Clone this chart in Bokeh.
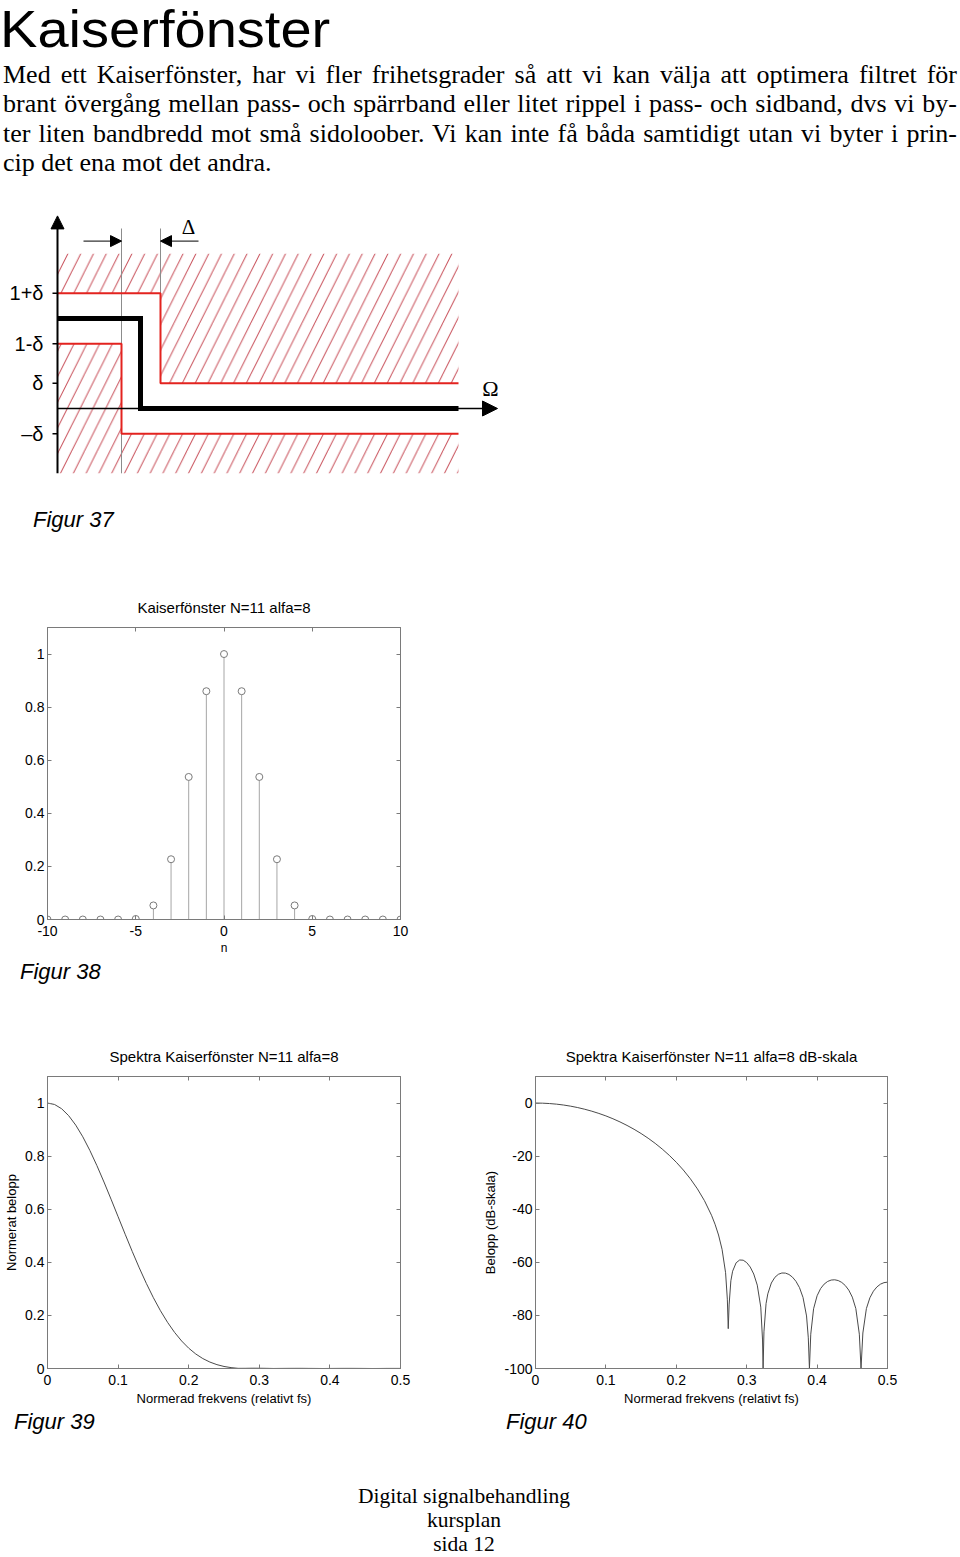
from bokeh.plotting import figure
from bokeh.layouts import column, row
from bokeh.models import Div, FixedTicker, LinearAxis, Range1d, Arrow, NormalHead
from bokeh.core.properties import value
from bokeh.embed import file_html
from bokeh.resources import INLINE

# ---------------- texts ----------------
page_title = "Kaiserfönster"
paragraph_lines = [
    "Med ett Kaiserfönster, har vi fler frihetsgrader så att vi kan välja att optimera filtret för",
    "brant övergång mellan pass- och spärrband eller litet rippel i pass- och sidband, dvs vi by-",
    "ter liten bandbredd mot små sidoloober. Vi kan inte få båda samtidigt utan vi byter i prin-",
    "cip det ena mot det andra.",
]
footer_lines = ["Digital signalbehandling", "kursplan", "sida 12"]
captions = ["Figur 37", "Figur 38", "Figur 39", "Figur 40"]

# ---------------- Figur 37 : tolerance scheme (schematic units) ----------------
delta = 0.28
omega_pass = 0.64
omega_cut = 0.83
omega_stop = 1.03
omega_end = 4.01
omega_tip = 4.40
hatch_top = 1.72
hatch_bottom = -0.72
axis_tip = 2.14
guide_top = 2.0
delta_arrow_y = 1.86
delta_arrow_starts = [0.26, 1.41]
level_labels = ["1+δ", "1-δ", "δ", "–δ"]
level_values = [1 + delta, 1 - delta, delta, -delta]

# ---------------- Figur 38 : Kaiser window N=11, alfa=8 ----------------
n_samples = [-10, -9, -8, -7, -6, -5, -4, -3, -2, -1, 0, 1, 2, 3, 4, 5, 6, 7, 8, 9, 10]
kaiser_w = [0, 0, 0, 0, 0, 0.002, 0.053, 0.227, 0.537, 0.860, 1.000,
            0.860, 0.537, 0.227, 0.053, 0.002, 0, 0, 0, 0, 0]

# ---------------- Figur 39 : normalized magnitude ----------------
f_lin = [0.00, 0.01, 0.02, 0.03, 0.04, 0.05, 0.06, 0.07, 0.08, 0.09,
         0.10, 0.11, 0.12, 0.13, 0.14, 0.15, 0.16, 0.17, 0.18, 0.19,
         0.20, 0.21, 0.22, 0.23, 0.24, 0.25, 0.26, 0.27, 0.28, 0.29,
         0.30, 0.31, 0.32, 0.33, 0.34, 0.35, 0.36, 0.37, 0.38, 0.39,
         0.40, 0.41, 0.42, 0.43, 0.44, 0.45, 0.46, 0.47, 0.48, 0.49, 0.50]
mag_lin = [1.0000, 0.9946, 0.9786, 0.9524, 0.9168, 0.8728, 0.8214, 0.7642, 0.7025, 0.6379,
           0.5718, 0.5058, 0.4411, 0.3791, 0.3206, 0.2666, 0.2176, 0.1740, 0.1360, 0.1036,
           0.0766, 0.0547, 0.0374, 0.0242, 0.0145, 0.0077, 0.0033, 0.0006, 0.0007, 0.0011,
           0.0010, 0.0006, 0.0001, 0.0003, 0.0005, 0.0006, 0.0006, 0.0004, 0.0002, 0.0000,
           0.0002, 0.0004, 0.0005, 0.0005, 0.0004, 0.0002, 0.0000, 0.0001, 0.0003, 0.0004, 0.0004]

# ---------------- Figur 40 : magnitude in dB ----------------
f_db = [0.00, 0.01, 0.02, 0.03, 0.04, 0.05, 0.06, 0.07, 0.08, 0.09,
        0.10, 0.11, 0.12, 0.13, 0.14, 0.15, 0.16, 0.17, 0.18, 0.19,
        0.20, 0.21, 0.22, 0.23, 0.24, 0.25, 0.255, 0.26, 0.265, 0.27,
        0.2725, 0.2738, 0.275, 0.2775, 0.28, 0.285, 0.29, 0.295, 0.30, 0.305,
        0.31, 0.315, 0.32, 0.3225, 0.3233, 0.3245, 0.3275, 0.33, 0.335, 0.34,
        0.345, 0.35, 0.355, 0.36, 0.365, 0.37, 0.375, 0.38, 0.385, 0.3875,
        0.3891, 0.391, 0.395, 0.40, 0.405, 0.41, 0.415, 0.42, 0.425, 0.43,
        0.435, 0.44, 0.445, 0.45, 0.455, 0.46, 0.4624, 0.465, 0.47, 0.475,
        0.48, 0.485, 0.49, 0.495, 0.50]
mag_db = [0.00, -0.05, -0.19, -0.42, -0.75, -1.18, -1.71, -2.34, -3.07, -3.91,
          -4.85, -5.92, -7.11, -8.43, -9.88, -11.48, -13.25, -15.19, -17.33, -19.69,
          -22.31, -25.24, -28.54, -32.33, -36.78, -42.27, -45.64, -49.71, -55.09, -63.92,
          -73.88, -85.0, -76.05, -66.95, -63.35, -60.17, -59.13, -59.20, -60.10, -61.78,
          -64.41, -68.59, -76.87, -89.25, -100.0, -86.19, -75.57, -71.87, -67.80, -65.66,
          -64.51, -64.02, -64.06, -64.57, -65.58, -67.17, -69.55, -73.24, -80.20, -88.45,
          -100.0, -87.08, -77.50, -72.60, -69.88, -68.21, -67.20, -66.68, -66.58, -66.87,
          -67.57, -68.73, -70.48, -73.11, -77.41, -87.07, -100.0, -86.63, -77.44, -73.35,
          -70.87, -69.26, -68.23, -67.66, -67.47]

# ---------------- ticks ----------------
stem_xticks = [-10, -5, 0, 5, 10]
stem_xticklabels = ["-10", "-5", "0", "5", "10"]
unit_yticks = [0, 0.2, 0.4, 0.6, 0.8, 1.0]
unit_yticklabels = ["0", "0.2", "0.4", "0.6", "0.8", "1"]
freq_ticks = [0, 0.1, 0.2, 0.3, 0.4, 0.5]
freq_ticklabels = ["0", "0.1", "0.2", "0.3", "0.4", "0.5"]
db_ticks = [-100, -80, -60, -40, -20, 0]
db_ticklabels = ["-100", "-80", "-60", "-40", "-20", "0"]

SANS = "Liberation Sans"
SERIF = "Liberation Serif"
FRAME = "#7a7a7a"
CURVE = "#4a4a4a"
W = 960


def div(html, height):
    return Div(text=html, width=W, height=height, margin=0, styles={"overflow": "visible"})


def box(style, text):
    return '<div style="position:absolute;white-space:nowrap;%s">%s</div>' % (style, text)


# ---------------- page top: title and paragraph ----------------
para = "".join(
    '<div style="text-align:justify;text-align-last:%s;">%s</div>'
    % ("justify" if i < len(paragraph_lines) - 1 else "left", line)
    for i, line in enumerate(paragraph_lines)
)
top_html = (
    '<div style="position:relative;width:960px;height:195px;color:#000;">'
    + box("left:0px;top:0px;font-family:'%s';font-size:52px;line-height:58px;"
          "transform:scaleX(1.078);transform-origin:0 0;" % SANS, page_title)
    + '<div style="position:absolute;left:3px;top:59.5px;width:954px;font-family:\'%s\';'
      'font-size:26px;line-height:29.5px;">%s</div>' % (SERIF, para)
    + "</div>"
)
div_top = div(top_html, 195)

# ---------------- Figur 37 diagram ----------------
diag = figure(width=W, height=300, x_range=Range1d(-0.57, 9.03),
              y_range=Range1d(-0.96667, 2.36667), output_backend="svg",
              toolbar_location=None, min_border=0, margin=0,
              x_axis_location=None, y_axis_location=None)
diag.grid.visible = False
diag.outline_line_color = None
diag.background_fill_color = "white"
diag.border_fill_color = "white"

upper_x = [0, omega_end, omega_end, omega_stop, omega_stop, 0]
upper_y = [hatch_top, hatch_top, delta, delta, 1 + delta, 1 + delta]
lower_x = [0, omega_pass, omega_pass, omega_end, omega_end, 0]
lower_y = [1 - delta, 1 - delta, -delta, -delta, hatch_bottom, hatch_bottom]
diag.patches([upper_x, lower_x], [upper_y, lower_y], fill_color=None, line_color=None,
             hatch_pattern="/", hatch_color="#c8505a", hatch_weight=1, hatch_scale=25.6)

diag.segment(x0=[omega_pass, omega_stop], y0=[hatch_bottom, 1 + delta],
             x1=[omega_pass, omega_stop], y1=[guide_top, guide_top],
             line_color="#8c8c8c", line_width=1)
diag.line([0, omega_stop, omega_stop, omega_end], [1 + delta, 1 + delta, delta, delta],
          line_color="#e3231f", line_width=2)
diag.line([0, omega_pass, omega_pass, omega_end], [1 - delta, 1 - delta, -delta, -delta],
          line_color="#e3231f", line_width=2)
diag.line([0, omega_cut, omega_cut, omega_end], [1, 1, 0, 0], line_color="black",
          line_width=5, line_join="miter")
diag.add_layout(Arrow(end=NormalHead(size=15, fill_color="black", line_color="black"),
                      x_start=0, y_start=0, x_end=omega_tip, y_end=0,
                      line_color="black", line_width=1.5))
diag.add_layout(Arrow(end=NormalHead(size=13, fill_color="black", line_color="black"),
                      x_start=0, y_start=hatch_bottom, x_end=0, y_end=axis_tip,
                      line_color="black", line_width=2))
for xs, xe in zip(delta_arrow_starts, [omega_pass, omega_stop]):
    diag.add_layout(Arrow(end=NormalHead(size=11, fill_color="black", line_color="black"),
                          x_start=xs, y_start=delta_arrow_y, x_end=xe, y_end=delta_arrow_y,
                          line_color="black", line_width=1))
diag.segment(x0=[-0.05] * 4, y0=level_values, x1=[0.0] * 4, y1=level_values,
             line_color="black", line_width=1.5)
diag.text(x=[-0.14] * 4, y=level_values, text=level_labels, text_font=value(SANS),
          text_font_size="20px", text_align="right", text_baseline="middle", text_color="black")
diag.text(x=[1.31], y=[2.02], text=["Δ"], text_font=value(SERIF), text_font_size="21px",
          text_align="center", text_baseline="middle", text_color="black")
diag.text(x=[4.33], y=[0.22], text=["Ω"], text_font=value(SERIF), text_font_size="22px",
          text_align="center", text_baseline="middle", text_color="black")

cap_style = "font-family:'%s';font-style:italic;font-size:22px;line-height:22px;color:#000;" % SANS
div_37 = div('<div style="position:relative;width:960px;height:50px;">'
             + box("left:33px;top:14.4px;" + cap_style, captions[0]) + "</div>", 50)


# ---------------- MATLAB-like axes helper ----------------
def matlab_axes(width, height, xr, yr, borders, title, xt, xtl, yt, ytl, xlabel=None, ylabel=None):
    left, right, top, bottom = borders
    p = figure(width=width, height=height, x_range=Range1d(*xr), y_range=Range1d(*yr),
               output_backend="svg", toolbar_location=None, margin=0,
               min_border_left=left, min_border_right=right,
               min_border_top=top, min_border_bottom=bottom)
    p.title.text = title
    p.title.align = "center"
    p.title.text_font = SANS
    p.title.text_font_size = "15px"
    p.title.text_font_style = "normal"
    p.title.text_color = "black"
    p.title.standoff = 23
    p.grid.visible = False
    p.outline_line_color = FRAME
    p.background_fill_color = "white"
    p.border_fill_color = "white"
    bottom_ax = p.below[0]
    left_ax = p.left[0]
    top_ax = LinearAxis()
    right_ax = LinearAxis()
    p.add_layout(top_ax, "above")
    p.add_layout(right_ax, "right")
    for ax, ticks, labels in [(bottom_ax, xt, xtl), (top_ax, xt, [""] * len(xt)),
                              (left_ax, yt, ytl), (right_ax, yt, [""] * len(yt))]:
        ax.ticker = FixedTicker(ticks=ticks)
        ax.major_label_overrides = dict(zip(ticks, labels))
        ax.axis_line_color = FRAME
        ax.major_tick_line_color = FRAME
        ax.major_tick_in = 4
        ax.major_tick_out = 0
        ax.minor_tick_line_color = None
        ax.major_label_text_font = SANS
        ax.major_label_text_font_size = "14px"
        ax.major_label_text_color = "black"
        ax.major_label_standoff = 3
        ax.axis_label_text_font = SANS
        ax.axis_label_text_font_size = "13px"
        ax.axis_label_text_font_style = "normal"
        ax.axis_label_text_color = "black"
        ax.axis_label_standoff = 3
    bottom_ax.major_label_standoff = 6
    for ax in (top_ax, right_ax):
        ax.major_label_standoff = 0
        ax.major_label_text_font_size = "1px"
    if xlabel:
        bottom_ax.axis_label = xlabel
    if ylabel:
        left_ax.axis_label = ylabel
    return p, bottom_ax, left_ax


# ---------------- Figur 38 stem plot ----------------
stem, stem_bottom, stem_left = matlab_axes(
    W, 412, (-10, 10), (0, 1.1), (47, 560, 82, 37), "Kaiserfönster N=11 alfa=8",
    stem_xticks, stem_xticklabels, unit_yticks, unit_yticklabels, xlabel="n")
stem_bottom.axis_label_text_font_size = "12px"
stem_bottom.axis_label_standoff = 2
stem.segment(x0=n_samples, y0=[0] * len(n_samples), x1=n_samples, y1=kaiser_w,
             line_color="#a6a6a6", line_width=1)
stem.scatter(n_samples, kaiser_w, marker="circle", size=7, fill_color="white",
             line_color="#7a7a7a", line_width=1)

div_38 = div('<div style="position:relative;width:960px;height:38px;">'
             + box("left:20px;top:4.4px;" + cap_style, captions[1]) + "</div>", 38)

# ---------------- Figur 39 / 40 spectra ----------------
lin, _, _ = matlab_axes(480, 415, (0, 0.5), (0, 1.1), (47, 80, 81, 42),
                        "Spektra Kaiserfönster N=11 alfa=8", freq_ticks, freq_ticklabels,
                        unit_yticks, unit_yticklabels,
                        xlabel="Normerad frekvens (relativt fs)", ylabel="Normerat belopp")
lin.line(f_lin, mag_lin, line_color=CURVE, line_width=1)

db, _, _ = matlab_axes(480, 415, (0, 0.5), (-100, 10), (53, 73, 81, 42),
                       "Spektra Kaiserfönster N=11 alfa=8 dB-skala", freq_ticks, freq_ticklabels,
                       db_ticks, db_ticklabels,
                       xlabel="Normerad frekvens (relativt fs)", ylabel="Belopp (dB-skala)")
db.line(f_db, mag_db, line_color=CURVE, line_width=1)

div_3940 = div('<div style="position:relative;width:960px;height:37px;">'
               + box("left:14px;top:1.4px;" + cap_style, captions[2])
               + box("left:506px;top:1.4px;" + cap_style, captions[3]) + "</div>", 37)

foot = "".join("<div>%s</div>" % t for t in footer_lines)
div_foot = div('<div style="position:relative;width:960px;height:109px;">'
               '<div style="position:absolute;left:0;top:37.3px;width:928px;text-align:center;'
               "font-family:'%s';font-size:21.5px;line-height:24px;color:#000;\">%s</div></div>"
               % (SERIF, foot), 109)

page = column(div_top, row(diag), div_37, row(stem), div_38, row(lin, db, spacing=0),
              div_3940, div_foot, spacing=0)

open("out.html", "w").write(file_html(page, INLINE))
